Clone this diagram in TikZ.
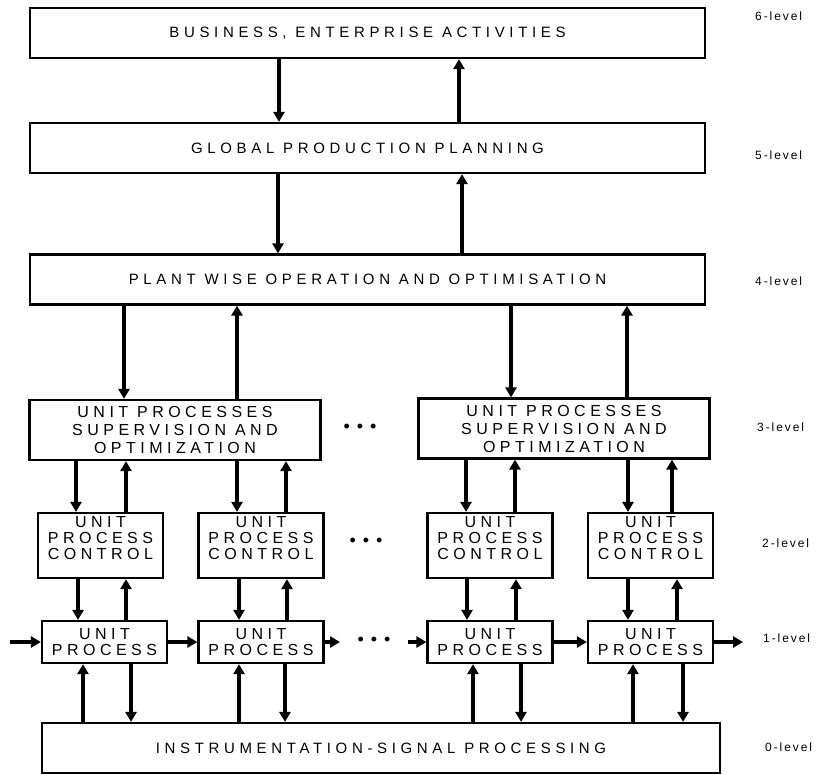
\documentclass[tikz,border=0pt]{standalone}
\usepackage{fontspec}
\setmainfont{Liberation Sans}
\newfontfamily\bigfont[LetterSpace=31]{Liberation Sans}
\newfontfamily\unitfont[LetterSpace=28]{Liberation Sans}
\newfontfamily\lvlfont[LetterSpace=16]{Liberation Sans}
\usetikzlibrary{arrows.meta}

\begin{document}
\begin{tikzpicture}[x=1pt,y=-1pt,
  box/.style={draw, line width=2.2pt, inner sep=0pt, align=center},
  wide/.style={box, minimum width=675pt, minimum height=50pt,
    font=\bigfont\fontsize{15}{17}\selectfont},
  supbox/.style={box, minimum width=291pt, minimum height=60pt,
    font=\unitfont\fontsize{16}{18}\selectfont},
  ctlbox/.style={box, minimum width=125pt, minimum height=65pt},
  ctltext/.style={align=center, inner sep=0pt,
    font=\unitfont\fontsize{16}{16}\selectfont},
  procbox/.style={box, minimum width=125pt, minimum height=42pt,
    font=\unitfont\fontsize{16}{16}\selectfont},
  link/.style={line width=3.2pt, -{Triangle[length=10pt,width=11pt]}},
  lvl/.style={anchor=west, inner sep=0pt, font=\lvlfont\fontsize{12}{14}\selectfont},
  dots/.style={inner sep=0pt, font=\fontsize{18}{18}\selectfont}
]
\useasboundingbox (0,0) rectangle (829,774);

% upper levels
\node[wide] (b6) at (367.5,33)  {BUSINESS, ENTERPRISE ACTIVITIES};
\node[wide] (b5) at (367.5,148) {GLOBAL PRODUCTION PLANNING};
\node[wide] (b4) at (367.5,279.5) {PLANT WISE OPERATION AND OPTIMISATION};

% supervision level
\node[supbox] (b3a) at (175,430)  {UNIT PROCESSES\\SUPERVISION AND\\OPTIMIZATION};
\node[supbox] (b3b) at (564,428.5) {UNIT PROCESSES\\SUPERVISION AND\\OPTIMIZATION};
\node[dots] (d3) at (360,428) {•\hspace{7pt}•\hspace{7pt}•};

% control level
\node[ctlbox] (b2a) at (100.5,545.5) {};
\node[ctlbox] (b2b) at (261,545.5) {};
\node[ctlbox] (b2c) at (490,545.5) {};
\node[ctlbox] (b2d) at (650.5,545.5) {};
\node[ctltext] (t2a) at (100.5,538) {UNIT\\PROCESS\\CONTROL};
\node[ctltext] (t2b) at (261,538) {UNIT\\PROCESS\\CONTROL};
\node[ctltext] (t2c) at (490,538) {UNIT\\PROCESS\\CONTROL};
\node[ctltext] (t2d) at (650.5,538) {UNIT\\PROCESS\\CONTROL};
\node[dots] (d2) at (366,542) {•\hspace{7pt}•\hspace{7pt}•};

% process level
\node[procbox] (b1a) at (104.5,642) {UNIT\\PROCESS};
\node[procbox] (b1b) at (261,642) {UNIT\\PROCESS};
\node[procbox] (b1c) at (490,642) {UNIT\\PROCESS};
\node[procbox] (b1d) at (650.5,642) {UNIT\\PROCESS};
\node[dots] (d1) at (374,641) {•\hspace{7pt}•\hspace{7pt}•};

% instrumentation level
\node[box, minimum width=678pt, minimum height=50pt,
  font=\bigfont\fontsize{15}{17}\selectfont] (b0) at (381,748)
  {INSTRUMENTATION-SIGNAL PROCESSING};

% level captions
\node[lvl] (l6) at (755,16)  {6-level};
\node[lvl] (l5) at (755,155) {5-level};
\node[lvl] (l4) at (755,281) {4-level};
\node[lvl] (l3) at (757,427) {3-level};
\node[lvl] (l2) at (762,543) {2-level};
\node[lvl] (l1) at (763,638) {1-level};
\node[lvl] (l0) at (765,747) {0-level};

% links between upper levels
\draw[link] (b6.south -| 279,0) -- (b5.north -| 279,0);
\draw[link] (b5.north -| 459,0) -- (b6.south -| 459,0);
\draw[link] (b5.south -| 278,0) -- (b4.north -| 278,0);
\draw[link] (b4.north -| 462,0) -- (b5.south -| 462,0);

% plant level to supervision
\draw[link] (b4.south -| 124,0) -- (b3a.north -| 124,0);
\draw[link] (b3a.north -| 237,0) -- (b4.south -| 237,0);
\draw[link] (b4.south -| 511,0) -- (b3b.north -| 511,0);
\draw[link] (b3b.north -| 627,0) -- (b4.south -| 627,0);

% supervision to control
\draw[link] (b3a.south -| 76,0) -- (b2a.north -| 76,0);
\draw[link] (b2a.north -| 126,0) -- (b3a.south -| 126,0);
\draw[link] (b3a.south -| 237,0) -- (b2b.north -| 237,0);
\draw[link] (b2b.north -| 286,0) -- (b3a.south -| 286,0);
\draw[link] (b3b.south -| 466,0) -- (b2c.north -| 466,0);
\draw[link] (b2c.north -| 515,0) -- (b3b.south -| 515,0);
\draw[link] (b3b.south -| 628,0) -- (b2d.north -| 628,0);
\draw[link] (b2d.north -| 672,0) -- (b3b.south -| 672,0);

% control to process
\draw[link] (b2a.south -| 78,0) -- (b1a.north -| 78,0);
\draw[link] (b1a.north -| 126,0) -- (b2a.south -| 126,0);
\draw[link] (b2b.south -| 239,0) -- (b1b.north -| 239,0);
\draw[link] (b1b.north -| 287,0) -- (b2b.south -| 287,0);
\draw[link] (b2c.south -| 467,0) -- (b1c.north -| 467,0);
\draw[link] (b1c.north -| 516,0) -- (b2c.south -| 516,0);
\draw[link] (b2d.south -| 628,0) -- (b1d.north -| 628,0);
\draw[link] (b1d.north -| 677,0) -- (b2d.south -| 677,0);

% process to instrumentation
\draw[link] (b0.north -| 83,0) -- (b1a.south -| 83,0);
\draw[link] (b1a.south -| 131,0) -- (b0.north -| 131,0);
\draw[link] (b0.north -| 239,0) -- (b1b.south -| 239,0);
\draw[link] (b1b.south -| 285,0) -- (b0.north -| 285,0);
\draw[link] (b0.north -| 473,0) -- (b1c.south -| 473,0);
\draw[link] (b1c.south -| 521,0) -- (b0.north -| 521,0);
\draw[link] (b0.north -| 633,0) -- (b1d.south -| 633,0);
\draw[link] (b1d.south -| 683,0) -- (b0.north -| 683,0);

% material flow through the units
\coordinate (in1) at (10,642);
\coordinate (out2) at (340,642);
\coordinate (in3) at (408,642);
\coordinate (out4) at (743,642);
\draw[link] (in1) -- (b1a.west);
\draw[link] (b1a.east) -- (b1b.west);
\draw[link] (b1b.east) -- (out2);
\draw[link] (in3) -- (b1c.west);
\draw[link] (b1c.east) -- (b1d.west);
\draw[link] (b1d.east) -- (out4);
\end{tikzpicture}
\end{document}
